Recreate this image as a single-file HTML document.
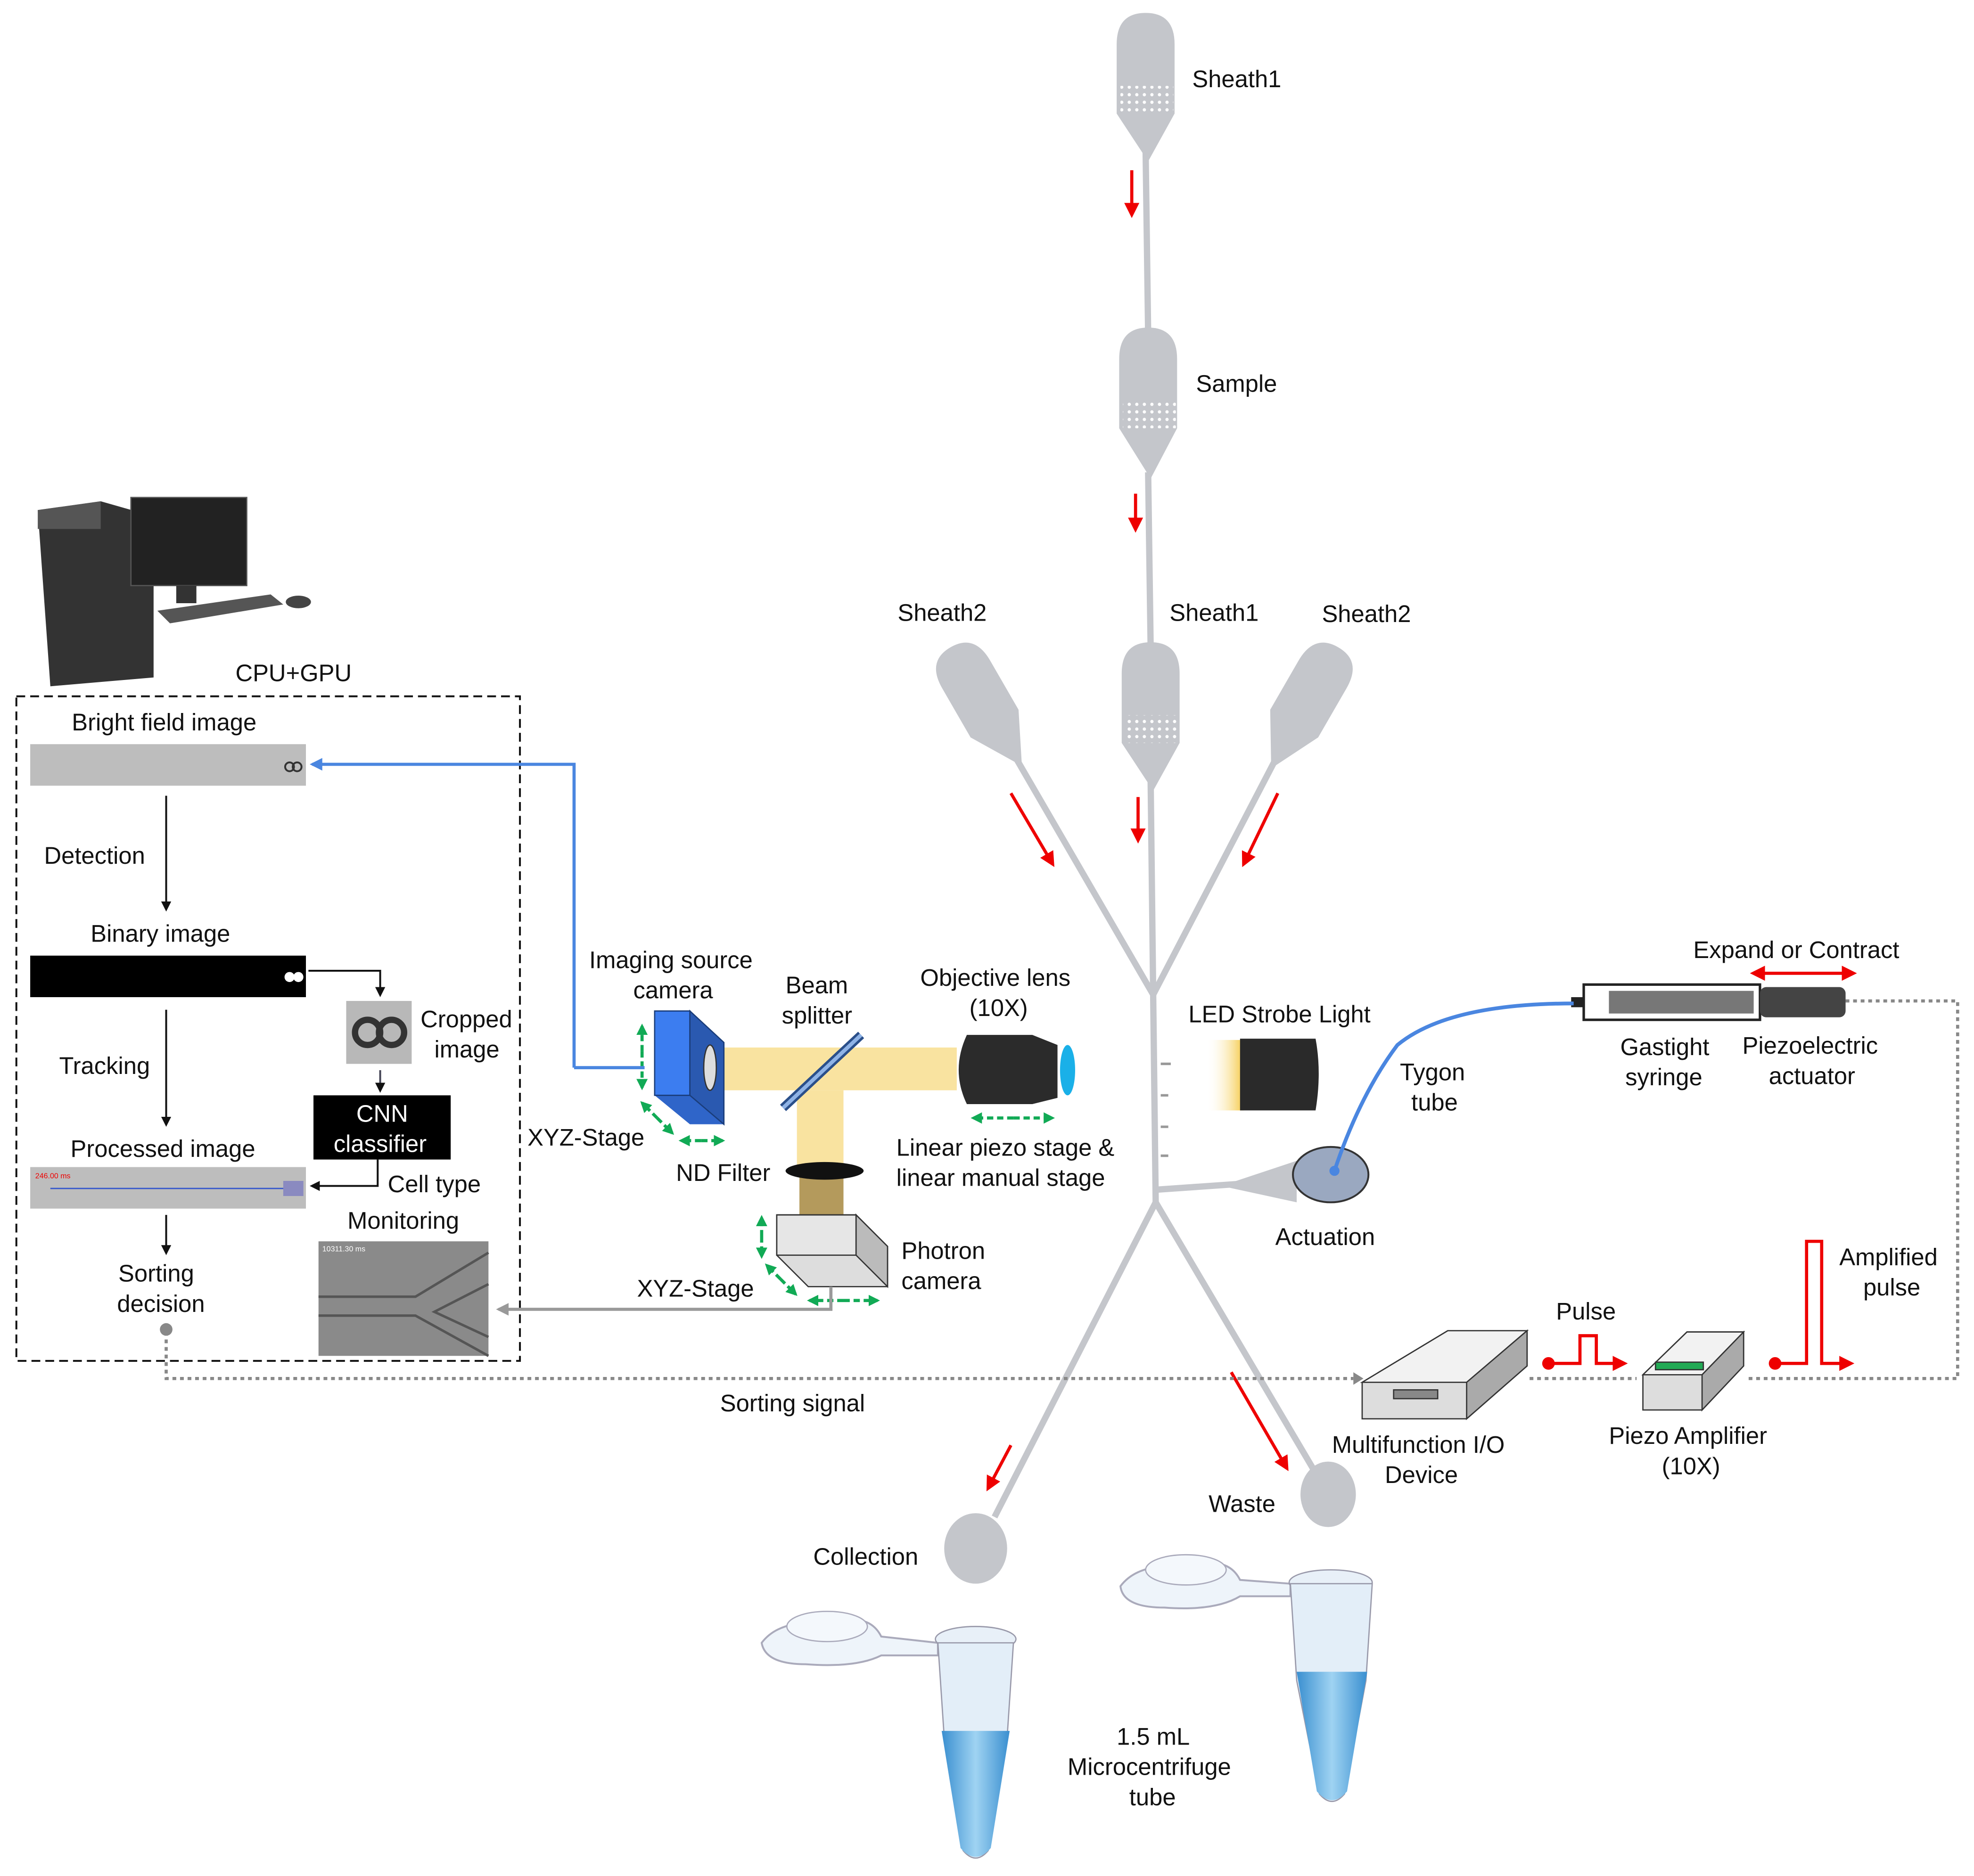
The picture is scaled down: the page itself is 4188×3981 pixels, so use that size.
<!DOCTYPE html>
<html><head><meta charset="utf-8"><style>
html,body{margin:0;padding:0;background:#fff;}
svg{display:block;}
text{font-family:"Liberation Sans",Arial,sans-serif;font-size:19px;fill:#111;}
</style></head><body>
<svg width="4188" height="3981" viewBox="0 0 1568 1490" xmlns="http://www.w3.org/2000/svg">
<defs>
<marker id="ab" markerWidth="8" markerHeight="8" refX="6" refY="4" orient="auto" markerUnits="userSpaceOnUse"><path d="M0,0 L8,4 L0,8 z" fill="#111"/></marker>
<marker id="ar" markerWidth="12" markerHeight="12" refX="9" refY="6" orient="auto" markerUnits="userSpaceOnUse"><path d="M0,0 L12,6 L0,12 z" fill="#e00"/></marker>
<marker id="ag" markerWidth="9" markerHeight="9" refX="7" refY="4.5" orient="auto" markerUnits="userSpaceOnUse"><path d="M0,0 L9,4.5 L0,9 z" fill="#1a5"/></marker>
<marker id="agr" markerWidth="10" markerHeight="10" refX="8" refY="5" orient="auto" markerUnits="userSpaceOnUse"><path d="M0,0 L10,5 L0,10 z" fill="#999"/></marker>
<marker id="abl" markerWidth="10" markerHeight="10" refX="8" refY="5" orient="auto" markerUnits="userSpaceOnUse"><path d="M0,0 L10,5 L0,10 z" fill="#4a86e0"/></marker>
<pattern id="dots" width="6" height="6" patternUnits="userSpaceOnUse"><circle cx="3" cy="3" r="1.3" fill="#fff"/></pattern>
<linearGradient id="tubeg" x1="0" x2="1"><stop offset="0" stop-color="#3a8fd0"/><stop offset="0.5" stop-color="#9fd3f2"/><stop offset="1" stop-color="#3a8fd0"/></linearGradient>
<linearGradient id="led" x1="0" x2="1"><stop offset="0" stop-color="#fff" stop-opacity="0"/><stop offset="1" stop-color="#f5c842"/></linearGradient>
</defs>
<rect width="1568" height="1490" fill="#fff"/>

<!-- channels -->
<g stroke="#c4c6cb" stroke-width="5" fill="none">
<path d="M910,120 L912,265"/>
<path d="M912,375 L914,515"/>
<path d="M914,620 L916,790 L918,955"/>
<path d="M800,590 L916,790 L1020,590"/>
<path d="M918,955 L790,1205"/>
<path d="M918,955 L1045,1170"/>
<path d="M918,945 L990,940"/>
</g>
<!-- reservoirs -->
<g fill="#c4c6cb">
<path d="M887,35 Q887,10 910,10 Q933,10 933,35 L933,90 L912,128 L887,90 z"/>
<path d="M889,285 Q889,260 912,260 Q935,260 935,285 L935,340 L914,380 L889,340 z"/>
<path d="M891,535 Q891,510 914,510 Q937,510 937,535 L937,590 L916,628 L891,590 z"/>
<g transform="rotate(-30 770 540)"><path d="M748,535 Q748,510 770,510 Q792,510 792,535 L792,580 L772,620 L748,580 z"/></g>
<g transform="rotate(30 1048 540)"><path d="M1026,535 Q1026,510 1048,510 Q1070,510 1070,535 L1070,580 L1050,620 L1026,580 z"/></g>
<path d="M970,942 L1030,922 L1030,955 z"/>
<ellipse cx="775" cy="1230" rx="25" ry="28"/>
<ellipse cx="1055" cy="1187" rx="22" ry="26"/>
</g>
<g fill="url(#dots)">
<rect x="890" y="68" width="42" height="22"/><rect x="892" y="318" width="42" height="22"/><rect x="894" y="568" width="42" height="22"/>
</g>
<ellipse cx="1057" cy="933" rx="30" ry="22" fill="#9aa8c0" stroke="#333" stroke-width="1.5"/>
<g stroke="#999" stroke-width="2"><line x1="922" y1="845" x2="930" y2="845"/><line x1="922" y1="870" x2="928" y2="870"/><line x1="922" y1="895" x2="928" y2="895"/><line x1="922" y1="918" x2="928" y2="918"/></g>

<!-- red arrows -->
<g stroke="#e00" stroke-width="2.5" marker-end="url(#ar)">
<line x1="899" y1="135" x2="899" y2="170"/>
<line x1="902" y1="392" x2="902" y2="420"/>
<line x1="904" y1="633" x2="904" y2="667"/>
<line x1="803" y1="630" x2="836" y2="686"/>
<line x1="1015" y1="630" x2="988" y2="686"/>
<line x1="803" y1="1148" x2="785" y2="1182"/>
<line x1="978" y1="1090" x2="1022" y2="1166"/>
</g>

<!-- labels right side -->
<text x="947" y="69">Sheath1</text>
<text x="950" y="311">Sample</text>
<text x="713" y="493">Sheath2</text>
<text x="929" y="493">Sheath1</text>
<text x="1050" y="494">Sheath2</text>
<text x="944" y="812">LED Strobe Light</text>
<text x="1112" y="858">Tygon</text><text x="1121" y="882">tube</text>
<text x="1013" y="989">Actuation</text>
<text x="646" y="1243">Collection</text>
<text x="960" y="1201">Waste</text>
<text x="887" y="1386">1.5 mL</text>
<text x="848" y="1410">Microcentrifuge</text>
<text x="897" y="1434">tube</text>
<text x="1345" y="761">Expand or Contract</text>
<text x="1287" y="838">Gastight</text><text x="1291" y="862">syringe</text>
<text x="1384" y="837">Piezoelectric</text><text x="1405" y="861">actuator</text>
<text x="1236" y="1048">Pulse</text>
<text x="1461" y="1005">Amplified</text><text x="1480" y="1029">pulse</text>
<text x="1058" y="1154">Multifunction I/O</text><text x="1100" y="1178">Device</text>
<text x="1278" y="1147">Piezo Amplifier</text><text x="1320" y="1171">(10X)</text>
<text x="572" y="1121">Sorting signal</text>

<!-- syringe -->
<rect x="1258" y="782" width="140" height="28" fill="#fff" stroke="#222" stroke-width="2"/>
<rect x="1278" y="787" width="115" height="18" fill="#777"/>
<rect x="1398" y="784" width="68" height="24" rx="5" fill="#444"/>
<rect x="1248" y="792" width="10" height="8" fill="#222"/>
<line x1="1393" y1="773" x2="1472" y2="773" stroke="#e00" stroke-width="2.5" marker-end="url(#ar)"/>
<line x1="1472" y1="773" x2="1393" y2="773" stroke="#e00" stroke-width="2.5" marker-end="url(#ar)"/>
<path d="M1060,930 Q1080,870 1110,830 Q1150,797 1250,797" fill="none" stroke="#4a86e0" stroke-width="3"/>
<circle cx="1060" cy="930" r="4" fill="#4a86e0"/>

<!-- LED -->
<rect x="958" y="826" width="30" height="56" fill="url(#led)"/>
<path d="M985,825 L1045,825 Q1050,852 1045,882 L985,882 z" fill="#2a2a2a"/>

<!-- optics -->
<rect x="575" y="832" width="185" height="34" fill="#f9e3a0"/>
<rect x="633" y="866" width="37" height="60" fill="#f9e3a0"/>
<rect x="635" y="935" width="35" height="32" fill="#b49a5c"/>
<line x1="622" y1="880" x2="684" y2="822" stroke="#2a4f8a" stroke-width="7"/>
<line x1="622" y1="880" x2="684" y2="822" stroke="#8fb3e6" stroke-width="3"/>
<ellipse cx="655" cy="930" rx="31" ry="7" fill="#111"/>
<path d="M520,803 L548,803 L575,828 L575,893 L548,893 L520,870 z" fill="#2f65c9"/>
<rect x="520" y="803" width="28" height="67" fill="#3c7df0" stroke="#1a3d7a"/>
<path d="M548,803 L575,828 L575,893 L548,870 z" fill="#2a59b0" stroke="#1a3d7a"/>
<ellipse cx="564" cy="848" rx="5" ry="18" fill="#ddd" stroke="#333"/>
<path d="M768,822 L820,822 L840,830 L840,872 L820,877 L768,877 Q755,850 768,822 z" fill="#2b2b2b"/>
<ellipse cx="848" cy="850" rx="6" ry="20" fill="#1ab0e8"/>
<path d="M617,965 L680,965 L705,990 L705,1022 L642,1022 L617,997 z" fill="#ddd" stroke="#333"/>
<path d="M617,965 L680,965 L680,997 L617,997 z" fill="#e6e6e6" stroke="#333"/>
<path d="M680,965 L705,990 L705,1022 L680,997 z" fill="#bbb" stroke="#333"/>
<g stroke="#1a5" stroke-width="2.5" stroke-dasharray="5,3">
<line x1="510" y1="835" x2="510" y2="815" marker-end="url(#ag)"/><line x1="510" y1="835" x2="510" y2="864" marker-end="url(#ag)"/>
<line x1="522" y1="888" x2="510" y2="876" marker-end="url(#ag)"/><line x1="522" y1="888" x2="534" y2="900" marker-end="url(#ag)"/>
<line x1="557" y1="906" x2="541" y2="906" marker-end="url(#ag)"/><line x1="557" y1="906" x2="574" y2="906" marker-end="url(#ag)"/>
<line x1="805" y1="888" x2="773" y2="888" marker-end="url(#ag)"/><line x1="805" y1="888" x2="836" y2="888" marker-end="url(#ag)"/>
<line x1="605" y1="982" x2="605" y2="967" marker-end="url(#ag)"/><line x1="605" y1="982" x2="605" y2="998" marker-end="url(#ag)"/>
<line x1="620" y1="1016" x2="609" y2="1005" marker-end="url(#ag)"/><line x1="620" y1="1016" x2="632" y2="1028" marker-end="url(#ag)"/>
<line x1="670" y1="1033" x2="643" y2="1033" marker-end="url(#ag)"/><line x1="670" y1="1033" x2="697" y2="1033" marker-end="url(#ag)"/>
</g>
<text x="468" y="769">Imaging source</text><text x="503" y="793">camera</text>
<text x="624" y="789">Beam</text><text x="621" y="813">splitter</text>
<text x="731" y="783">Objective lens</text><text x="770" y="807">(10X)</text>
<text x="419" y="910">XYZ-Stage</text>
<text x="537" y="938">ND Filter</text>
<text x="712" y="918">Linear piezo stage &amp;</text><text x="712" y="942">linear manual stage</text>
<text x="716" y="1000">Photron</text><text x="716" y="1024">camera</text>
<text x="506" y="1030">XYZ-Stage</text>

<!-- I/O & amp -->
<path d="M1082,1098 L1150,1057 L1213,1057 L1213,1085 L1165,1127 L1082,1127 z" fill="#ddd" stroke="#333"/>
<path d="M1082,1098 L1150,1057 L1213,1057 L1165,1098 z" fill="#f2f2f2" stroke="#333"/>
<path d="M1165,1098 L1213,1057 L1213,1085 L1165,1127 z" fill="#aaa" stroke="#333"/>
<rect x="1107" y="1104" width="35" height="7" fill="#888" stroke="#333"/>
<path d="M1305,1092 L1340,1058 L1385,1058 L1385,1085 L1352,1120 L1305,1120 z" fill="#ddd" stroke="#333"/>
<path d="M1305,1092 L1340,1058 L1385,1058 L1352,1092 z" fill="#f2f2f2" stroke="#333"/>
<path d="M1352,1092 L1385,1058 L1385,1085 L1352,1120 z" fill="#aaa" stroke="#333"/>
<rect x="1315" y="1082" width="38" height="6" fill="#2a5" stroke="#333"/>

<!-- dotted signal lines -->
<g fill="none" stroke="#888" stroke-width="2.5" stroke-dasharray="3,3">
<path d="M132,1058 L132,1095 L1075,1095"/>
<path d="M1215,1095 L1300,1095"/>
<path d="M1466,795 L1555,795 L1555,1095 L1387,1095"/>
</g>
<path d="M1075,1090 L1083,1095 L1075,1100 z" fill="#888"/>
<circle cx="132" cy="1056" r="5" fill="#888"/>
<g fill="none" stroke="#e00" stroke-width="2.5">
<path d="M1230,1083 L1255,1083 L1255,1061 L1268,1061 L1268,1083 L1290,1083" marker-end="url(#ar)"/>
<path d="M1410,1083 L1435,1083 L1435,986 L1447,986 L1447,1083 L1470,1083" marker-end="url(#ar)"/>
</g>
<circle cx="1230" cy="1083" r="5" fill="#e00"/><circle cx="1410" cy="1083" r="5" fill="#e00"/>

<!-- computer -->
<path d="M30,405 L80,398 L122,410 L122,538 L40,545 z" fill="#333"/>
<path d="M30,405 L80,398 L80,420 L30,420 z" fill="#555"/>
<rect x="104" y="395" width="92" height="70" fill="#222" stroke="#555"/>
<rect x="140" y="465" width="16" height="14" fill="#333"/>
<path d="M125,485 L215,472 L225,480 L135,495 z" fill="#555"/>
<ellipse cx="237" cy="478" rx="10" ry="5" fill="#444"/>
<text x="187" y="541">CPU+GPU</text>

<!-- left box -->
<rect x="13" y="553" width="400" height="528" fill="none" stroke="#111" stroke-width="1.5" stroke-dasharray="7,4"/>
<text x="57" y="580">Bright field image</text>
<rect x="24" y="591" width="219" height="33" fill="#bdbdbd"/>
<circle cx="230" cy="609" r="3.5" fill="none" stroke="#333" stroke-width="1.5"/><circle cx="236" cy="609" r="3.5" fill="none" stroke="#333" stroke-width="1.5"/>
<path d="M456,848 L456,607 L248,607" fill="none" stroke="#4a86e0" stroke-width="2.5" marker-end="url(#abl)"/>
<line x1="456" y1="848" x2="512" y2="848" stroke="#4a86e0" stroke-width="2.5"/>
<line x1="132" y1="632" x2="132" y2="722" stroke="#111" stroke-width="1.5" marker-end="url(#ab)"/>
<text x="35" y="686">Detection</text>
<text x="72" y="748">Binary image</text>
<rect x="24" y="759" width="219" height="33" fill="#000"/>
<circle cx="230" cy="776" r="4" fill="#fff"/><circle cx="237" cy="776" r="4" fill="#fff"/>
<path d="M245,771 L302,771 L302,790" fill="none" stroke="#111" stroke-width="1.5" marker-end="url(#ab)"/>
<rect x="275" y="795" width="52" height="50" fill="#b8b8b8"/>
<circle cx="292" cy="820" r="10" fill="none" stroke="#333" stroke-width="5"/><circle cx="311" cy="820" r="10" fill="none" stroke="#333" stroke-width="5"/>
<text x="334" y="816">Cropped</text><text x="345" y="840">image</text>
<line x1="302" y1="850" x2="302" y2="866" stroke="#445" stroke-width="1.5" marker-end="url(#ab)"/>
<rect x="249" y="870" width="109" height="51" fill="#000"/>
<text x="283" y="891" style="fill:#fff">CNN</text><text x="265" y="915" style="fill:#fff">classifier</text>
<line x1="132" y1="802" x2="132" y2="893" stroke="#111" stroke-width="1.5" marker-end="url(#ab)"/>
<text x="47" y="853">Tracking</text>
<text x="56" y="919">Processed image</text>
<rect x="24" y="927" width="219" height="33" fill="#bdbdbd"/>
<line x1="40" y1="944" x2="235" y2="944" stroke="#3355cc" stroke-width="1"/>
<text x="28" y="936" style="font-size:6px;fill:#e00">246.00 ms</text>
<rect x="225" y="938" width="16" height="12" fill="#8a8ac0"/>
<path d="M300,921 L300,942 L248,942" fill="none" stroke="#111" stroke-width="1.5" marker-end="url(#ab)"/>
<text x="308" y="947">Cell type</text>
<text x="276" y="976">Monitoring</text>
<rect x="253" y="986" width="135" height="91" fill="#8a8a8a"/>
<path d="M253,1030 L330,1030 L388,995 M253,1045 L330,1045 L388,1077 M388,1020 L345,1042 L388,1062" fill="none" stroke="#555" stroke-width="2"/>
<text x="256" y="994" style="font-size:6px;fill:#fff">10311.30 ms</text>
<path d="M660,1022 L660,1040 L396,1040" fill="none" stroke="#999" stroke-width="2.5" marker-end="url(#agr)"/>
<line x1="132" y1="965" x2="132" y2="995" stroke="#111" stroke-width="1.5" marker-end="url(#ab)"/>
<text x="94" y="1018">Sorting</text><text x="93" y="1042">decision</text>

<!-- tubes -->
<g>
<path d="M605,1305 Q620,1285 660,1290 Q690,1280 700,1300 L745,1305 L745,1315 L700,1315 Q680,1325 640,1322 Q608,1322 605,1305 z" fill="#eef4fa" stroke="#aab" stroke-width="1.5"/>
<ellipse cx="657" cy="1292" rx="32" ry="12" fill="#f4f8fc" stroke="#aab"/>
<ellipse cx="775" cy="1302" rx="32" ry="10" fill="#e8f0f8" stroke="#99a"/>
<path d="M745,1305 L805,1305 L800,1380 L785,1470 Q775,1482 765,1470 L750,1380 z" fill="#e3eef8" stroke="#99a"/>
<path d="M748,1375 L802,1375 L787,1468 Q775,1482 763,1468 z" fill="url(#tubeg)"/>
<path d="M890,1260 Q905,1240 945,1245 Q975,1235 985,1255 L1025,1258 L1025,1268 L985,1268 Q965,1280 925,1277 Q892,1277 890,1260 z" fill="#eef4fa" stroke="#aab" stroke-width="1.5"/>
<ellipse cx="942" cy="1247" rx="32" ry="12" fill="#f4f8fc" stroke="#aab"/>
<ellipse cx="1057" cy="1257" rx="33" ry="10" fill="#e8f0f8" stroke="#99a"/>
<path d="M1025,1258 L1090,1258 L1085,1335 L1068,1425 Q1058,1437 1048,1425 L1030,1335 z" fill="#e3eef8" stroke="#99a"/>
<path d="M1030,1328 L1086,1328 L1070,1423 Q1058,1437 1046,1423 z" fill="url(#tubeg)"/>
</g>
</svg>
</body></html>
